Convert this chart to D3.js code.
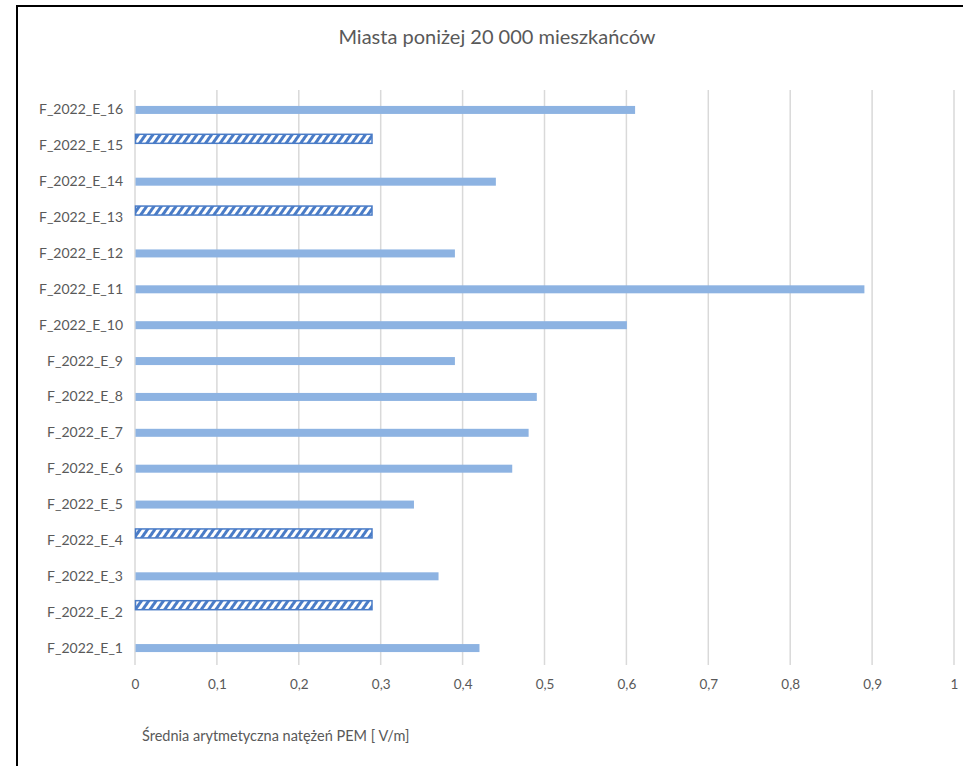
<!DOCTYPE html>
<html><head><meta charset="utf-8">
<script src="https://cdn.jsdelivr.net/npm/d3@7/dist/d3.min.js"></script>
<style>
body{margin:0;background:#fff;}
text{font-family:Lato,"Open Sans",sans-serif;}
</style></head>
<body><svg id="c" width="963" height="766"></svg>
<script>
const categories = ["F_2022_E_1","F_2022_E_2","F_2022_E_3","F_2022_E_4","F_2022_E_5","F_2022_E_6","F_2022_E_7","F_2022_E_8","F_2022_E_9","F_2022_E_10","F_2022_E_11","F_2022_E_12","F_2022_E_13","F_2022_E_14","F_2022_E_15","F_2022_E_16"];
const values = [0.42,0.29,0.37,0.29,0.34,0.46,0.48,0.49,0.39,0.60,0.89,0.39,0.29,0.44,0.29,0.61];
const hatched = [false,true,false,true,false,false,false,false,false,false,false,false,true,false,true,false];
const xTicks = [0,0.1,0.2,0.3,0.4,0.5,0.6,0.7,0.8,0.9,1];
const xTickLabels = ["0","0,1","0,2","0,3","0,4","0,5","0,6","0,7","0,8","0,9","1"];
const title = "Miasta poniżej 20 000 mieszkańców";
const xTitle = "Średnia arytmetyczna natężeń PEM [ V/m]";

const svg = d3.select("#c");
const defs = svg.append("defs");
const pat = defs.append("pattern").attr("id","hatch").attr("patternUnits","userSpaceOnUse")
  .attr("width",6).attr("height",6).attr("patternTransform","rotate(35)");
pat.append("rect").attr("width",6).attr("height",6).attr("fill","#4a7cc7");
pat.append("rect").attr("x",0).attr("width",3).attr("height",6).attr("fill","#fff");

svg.append("rect").attr("x",17).attr("y",6).attr("width",1000).attr("height",1000)
  .attr("fill","none").attr("stroke","#000").attr("stroke-width",2);

const x = d3.scaleLinear().domain([0,1]).range([135,954]);
const y = d3.scaleBand().domain(categories.slice().reverse()).range([92,666]);

// gridlines
svg.append("g").selectAll("line").data(xTicks).join("line")
  .attr("x1",d=>x(d)).attr("x2",d=>x(d)).attr("y1",90).attr("y2",665)
  .attr("stroke","#d9d9d9").attr("stroke-width",1.5);

const xAxis = svg.append("g").attr("transform","translate(0,665)")
  .call(d3.axisBottom(x).tickValues(xTicks).tickFormat((d,i)=>xTickLabels[i]).tickSize(0).tickPadding(14));
xAxis.select(".domain").remove();
xAxis.selectAll("text").attr("fill","#595959").attr("font-size","13.5px");

const yAxis = svg.append("g").attr("transform","translate(123,0)")
  .call(d3.axisLeft(y).tickSize(0).tickPadding(0));
yAxis.select(".domain").remove();
yAxis.selectAll("text").attr("fill","#595959").attr("font-size","14px");

const data = categories.map((c,i)=>({c,v:values[i],h:hatched[i]}));
svg.append("g").selectAll("rect").data(data).join("rect")
  .attr("x",x(0)+0.5)
  .attr("y",d=>y(d.c)+y.bandwidth()/2-(d.h?11.5:4))
  .attr("width",d=>x(d.v)-x(0)-(d.h?1:0))
  .attr("height",d=>d.h?9:8)
  .attr("fill",d=>d.h?"url(#hatch)":"#8db3e2")
  .attr("stroke",d=>d.h?"#4a7cc7":"none")
  .attr("stroke-width",1.5);

svg.append("text").attr("x",497).attr("y",44).attr("text-anchor","middle")
  .attr("font-size","20px").attr("fill","#595959").text(title);
svg.append("text").attr("x",142).attr("y",741)
  .attr("font-size","14.5px").attr("fill","#595959").text(xTitle);
</script></body></html>
